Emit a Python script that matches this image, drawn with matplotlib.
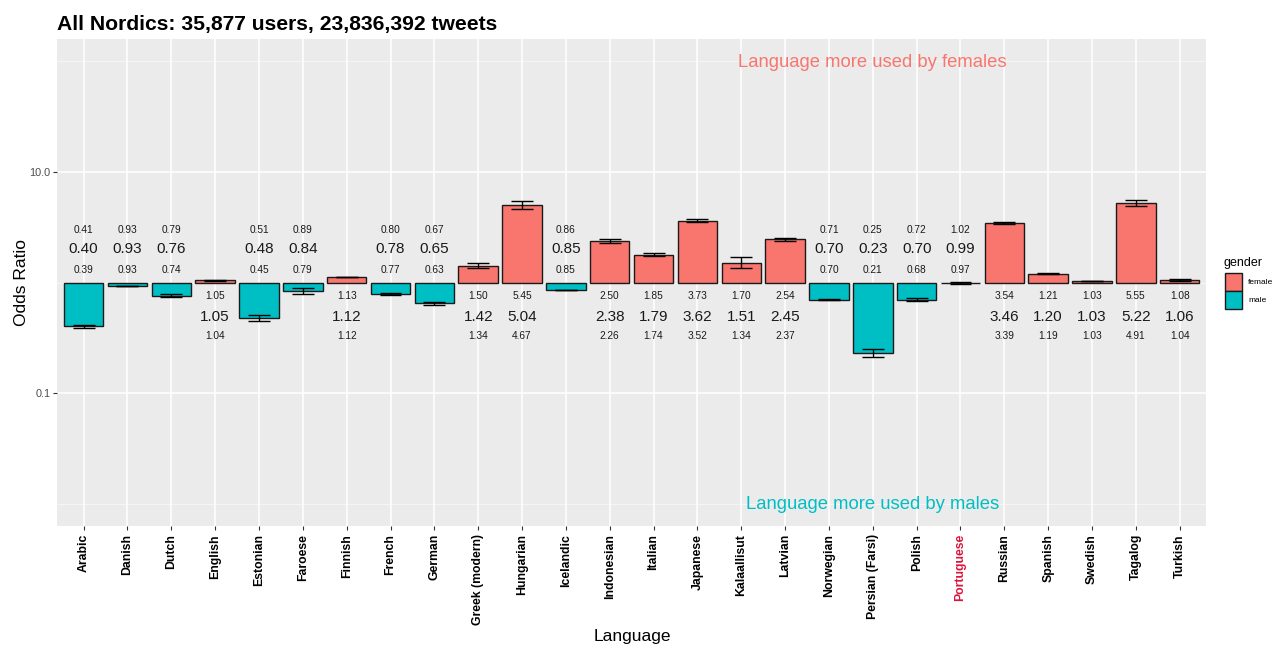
import matplotlib
matplotlib.use("Agg")
import matplotlib.pyplot as plt
from matplotlib.patches import Rectangle
import numpy as np

# Odds ratios (female vs male) per language with 95% confidence bounds
languages = ["Arabic", "Danish", "Dutch", "English", "Estonian", "Faroese",
             "Finnish", "French", "German", "Greek (modern)", "Hungarian",
             "Icelandic", "Indonesian", "Italian", "Japanese", "Kalaallisut",
             "Latvian", "Norwegian", "Persian (Farsi)", "Polish", "Portuguese",
             "Russian", "Spanish", "Swedish", "Tagalog", "Turkish"]
odds_ratio = [0.40, 0.93, 0.76, 1.05, 0.48, 0.84, 1.12, 0.78, 0.65, 1.42, 5.04,
              0.85, 2.38, 1.79, 3.62, 1.51, 2.45, 0.70, 0.23, 0.70, 0.99, 3.46,
              1.20, 1.03, 5.22, 1.06]
ci_upper = [0.41, 0.93, 0.79, 1.05, 0.51, 0.89, 1.13, 0.80, 0.67, 1.50, 5.45,
            0.86, 2.50, 1.85, 3.73, 1.70, 2.54, 0.71, 0.25, 0.72, 1.02, 3.54,
            1.21, 1.03, 5.55, 1.08]
ci_lower = [0.39, 0.93, 0.74, 1.04, 0.45, 0.79, 1.12, 0.77, 0.63, 1.34, 4.67,
            0.85, 2.26, 1.74, 3.52, 1.34, 2.37, 0.70, 0.21, 0.68, 0.97, 3.39,
            1.19, 1.03, 4.91, 1.04]
highlight = ["Portuguese"]

FEMALE = "#F8766D"
MALE = "#00BFC4"
FONT = "Liberation Sans"
plt.rcParams["font.family"] = [FONT, "DejaVu Sans"]

fig = plt.figure(figsize=(12.75, 6.47), dpi=100)
W, H = 1275, 647
L, R, T, B = 57.3, 1206.0, 39.3, 525.7
ax = fig.add_axes([L / W, 1 - B / H, (R - L) / W, (B - T) / H])
ax.set_facecolor("#EBEBEB")
for s in ax.spines.values():
    s.set_visible(False)

x = np.arange(len(languages))
ax.set_yscale("log")
ax.set_ylim(10 ** -2.2, 10 ** 2.2)
ax.set_xlim(-0.6, len(languages) - 0.4)

# grid: major at 0.1 and 10, minor at 0.01, 1, 100
for v in [0.01, 1, 100]:
    ax.axhline(v, color="#F7F7F7", lw=0.6, zorder=0.5)
for v in [0.1, 10]:
    ax.axhline(v, color="white", lw=1.1, zorder=0.5)
for xi in x:
    ax.axvline(xi, color="white", lw=1.1, zorder=0.5)

colors = [MALE if v < 1 else FEMALE for v in odds_ratio]
bottoms = [min(1.0, v) for v in odds_ratio]
heights = [abs(v - 1.0) for v in odds_ratio]
ax.bar(x, heights, bottom=bottoms, width=0.9, color=colors,
       edgecolor="#1a1a1a", linewidth=1.0, zorder=2)

# confidence intervals
ax.vlines(x, ci_lower, ci_upper, color="black", lw=1.0, zorder=3)
ax.hlines(ci_lower, x - 0.25, x + 0.25, color="black", lw=1.0, zorder=3)
ax.hlines(ci_upper, x - 0.25, x + 0.25, color="black", lw=1.0, zorder=3)

# value labels: above 1 for male-leaning, below 1 for female-leaning
for xi, v, lo, hi in zip(x, odds_ratio, ci_lower, ci_upper):
    if v < 1:
        ys = (3.0, 2.0, 1.3)
    else:
        ys = (0.75, 0.49, 0.33)
    ax.text(xi, ys[0], f"{hi:.2f}", ha="center", va="center", fontsize=7.3,
            color="#1a1a1a", zorder=4)
    ax.text(xi, ys[1], f"{v:.2f}", ha="center", va="center", fontsize=11,
            color="#1a1a1a", zorder=4)
    ax.text(xi, ys[2], f"{lo:.2f}", ha="center", va="center", fontsize=7.3,
            color="#1a1a1a", zorder=4)

mid = languages.index("Persian (Farsi)")
ax.text(mid, 97, "Language more used by females", ha="center", va="center",
        fontsize=13.3, color=FEMALE, zorder=4)
ax.text(mid, 0.0098, "Language more used by males", ha="center", va="center",
        fontsize=13.3, color=MALE, zorder=4)

# axes ticks and labels
ax.set_yticks([0.1, 10])
ax.set_yticklabels(["0.1", "10.0"])
ax.yaxis.set_minor_locator(matplotlib.ticker.NullLocator())
ax.tick_params(axis="y", length=3, color="#333333", labelsize=7.8,
               labelcolor="#4D4D4D", pad=2)
ax.set_xticks(x)
ax.set_xticklabels(languages, rotation=90, fontsize=8.8, fontweight="bold",
                   color="black")
for lab in ax.get_xticklabels():
    if lab.get_text() in highlight:
        lab.set_color("#DC143C")
ax.tick_params(axis="x", length=3, color="#333333", pad=3)

ax.set_xlabel("Language", fontsize=12.5, va="center")
ax.xaxis.set_label_coords((632 - L) / (R - L), -(636 - B) / (B - T))
ax.set_ylabel("Odds Ratio", fontsize=12.5, va="center")
ax.yaxis.set_label_coords(-(L - 22) / (R - L), 0.5)
ax.set_title("All Nordics: 35,877 users, 23,836,392 tweets", loc="left",
             fontsize=15.2, fontweight="bold", pad=7, x=0.0)

# legend
def fx(px):
    return px / W

def fy(py):
    return 1 - py / H

fig.text(fx(1224), fy(262.7), "gender", fontsize=9, va="center", ha="left")
for (top, col, name) in [(273.3, FEMALE, "female"), (291.2, MALE, "male")]:
    fig.add_artist(Rectangle((fx(1225), fy(top + 17.5)), 16.7 / W, 17.5 / H,
                             transform=fig.transFigure, facecolor=col,
                             edgecolor="#1a1a1a", lw=1.0))
    fig.text(fx(1248), fy(top + 9), name, fontsize=6, va="center", ha="left")

fig.savefig("out.png", dpi=100)
